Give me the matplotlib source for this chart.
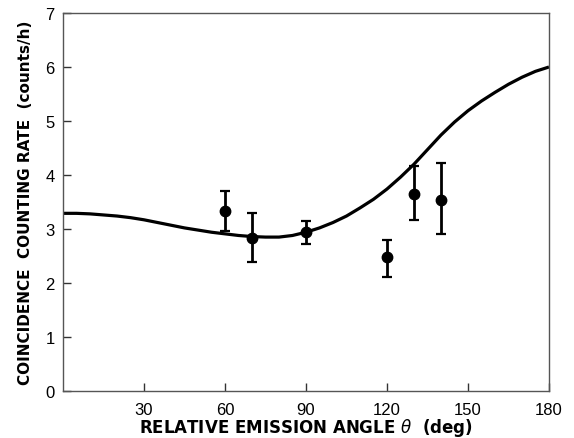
import matplotlib
matplotlib.use('Agg')
import matplotlib.pyplot as plt

# measured points
angles = [60, 70, 90, 120, 130, 140]
rates = [3.34, 2.84, 2.95, 2.48, 3.65, 3.54]
err_lo = [0.37, 0.45, 0.22, 0.36, 0.48, 0.64]
err_hi = [0.36, 0.45, 0.19, 0.32, 0.52, 0.69]

curve_theta = [0, 5, 10, 15, 20, 25, 30, 35, 40, 45, 50, 55, 60, 65, 70, 75,
               80, 85, 90, 95, 100, 105, 110, 115, 120, 125, 130, 135, 140,
               145, 150, 155, 160, 165, 170, 175, 180]
curve_rate = [3.29, 3.29, 3.28, 3.26, 3.24, 3.21, 3.17, 3.12, 3.07, 3.02,
              2.98, 2.94, 2.91, 2.88, 2.86, 2.85, 2.85, 2.88, 2.94, 3.02,
              3.12, 3.24, 3.39, 3.55, 3.74, 3.96, 4.20, 4.47, 4.74, 4.98,
              5.19, 5.37, 5.53, 5.68, 5.81, 5.92, 6.00]

xticks = [30, 60, 90, 120, 150, 180]
yticks = [0, 1, 2, 3, 4, 5, 6, 7]


def main():
    plt.rcParams['font.family'] = ['Liberation Sans', 'DejaVu Sans']
    fig = plt.figure(figsize=(5.74, 4.39), dpi=100)
    ax = fig.add_axes([0.1098, 0.1071, 0.8466, 0.8610])

    ax.plot(curve_theta, curve_rate, color='black', lw=2.3,
            solid_capstyle='butt', zorder=2)
    ax.errorbar(angles, rates, yerr=[err_lo, err_hi], fmt='o', color='black',
                ms=7.5, elinewidth=2.0, capsize=3.5, capthick=1.6, zorder=3)

    ax.set_xlim(0, 180)
    ax.set_ylim(0, 7)
    ax.set_xticks(xticks)
    ax.set_yticks(yticks)
    ax.tick_params(direction='in', length=6, width=1.0, labelsize=12,
                   color='#333333', top=False, right=False)
    ax.tick_params(axis='x', pad=8)
    ax.tick_params(axis='y', pad=6)
    for s in ax.spines.values():
        s.set_color('#555555')
        s.set_linewidth(1.0)

    ax.set_xlabel(r'RELATIVE EMISSION ANGLE $\theta$  (deg)',
                  fontsize=12, fontweight='bold', family='DejaVu Sans',
                  labelpad=-1)
    ax.set_ylabel('COINCIDENCE  COUNTING RATE  (counts/h)',
                  fontsize=11, fontweight='bold', family='DejaVu Sans',
                  labelpad=9)

    fig.savefig('out.png', dpi=100)


if __name__ == '__main__':
    main()
